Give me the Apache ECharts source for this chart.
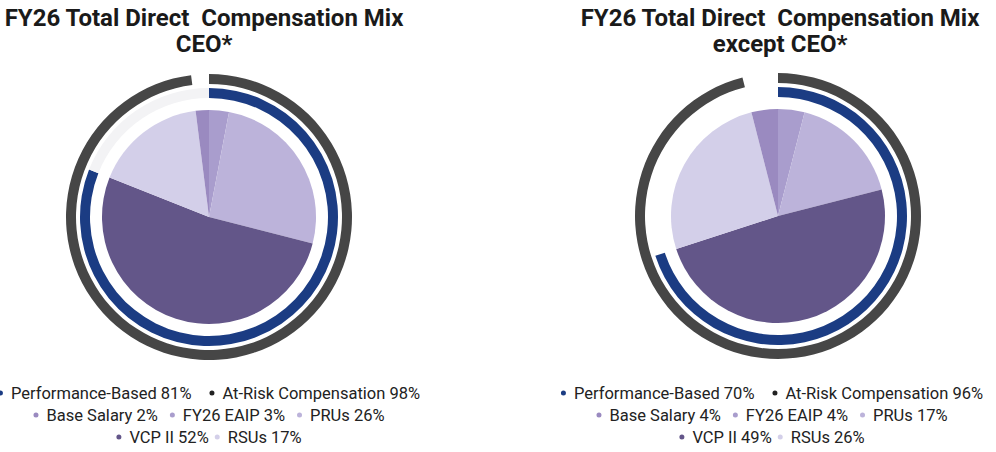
<!DOCTYPE html>
<html>
<head>
<meta charset="utf-8">
<script src="https://cdn.jsdelivr.net/npm/echarts@6/dist/echarts.min.js"></script>
<style>
	html, body { margin: 0; padding: 0; background: #fff; }
	#wrap { position: relative; width: 996px; height: 452px; overflow: hidden; }
	.chart { position: absolute; top: 0; height: 452px; }
	#ceo { left: -40px; width: 498px; }
	#others { left: 548px; width: 448px; }
</style>
</head>
<body>
<div id="wrap">
	<div id="ceo" class="chart"></div>
	<div id="others" class="chart"></div>
</div>
<script>
// Pay components, in clockwise order from 12 o'clock
const components = [ 'FY26 EAIP', 'PRUs', 'VCP II', 'RSUs', 'Base Salary' ];
const componentColors = [ '#a99dcd', '#bcb3da', '#635689', '#d3cfe9', '#9a8ac0' ];

const ceoMix = [ 3, 26, 52, 17, 2 ];
const othersMix = [ 4, 17, 49, 26, 4 ];

const ceoPerformanceBased = 81;
const ceoAtRisk = 98;
const othersPerformanceBased = 70;
const othersAtRisk = 96;

const ceoTitle = [ 'FY26 Total Direct  Compensation Mix', 'CEO*' ];
const othersTitle = [ 'FY26 Total Direct  Compensation Mix', 'except CEO*' ];

// Legend lines: indexes into components
const legendLine2 = [ 4, 0, 1 ];
const legendLine3 = [ 2, 3 ];

const DOT = 'path://M50,0A50,50,0,1,1,50,100A50,50,0,1,1,50,0Z';

const withPct = ( name, value ) => `${ name } ${ value }%`;

const legendLine = ( data, top, gap ) => ( {
	left: 'center',
	top,
	padding: 0,
	itemGap: gap,
	itemWidth: 7,
	itemHeight: 5,
	icon: DOT,
	selectedMode: false,
	textStyle: {
		fontFamily: 'Roboto',
		fontSize: 16.5,
		lineHeight: 20,
		color: '#222',
		padding: [ 0, 0, 0, 2 ]
	},
	data
} );

const titleLine = ( text, x, top ) => ( {
	text,
	left: x,
	top,
	padding: 0,
	textAlign: 'center',
	textStyle: {
		fontFamily: 'Roboto',
		fontWeight: 'bold',
		fontSize: 24,
		lineHeight: 24,
		color: '#1a1a1a'
	}
} );

/**
 * @param {HTMLElement} el
 * @param {Object} opts
 */
const render = ( el, opts ) => {
	const chart = echarts.init( el, null, { renderer: 'svg' } );
	const names = components.map( ( c, i ) => withPct( c, opts.mix[ i ] ) );
	const perfName = withPct( 'Performance-Based', opts.performance );
	const riskName = withPct( 'At-Risk Compensation', opts.atRisk );

	chart.setOption( {
		animation: false,
		title: opts.title.map( ( t, i ) => titleLine( t, opts.titleX, 6 + i * 25.5 ) ),
		legend: [
			legendLine( [ perfName, { name: riskName, itemStyle: { color: '#222' } } ], 383, 18 ),
			legendLine( legendLine2.map( ( i ) => names[ i ] ), 405, 12 ),
			legendLine( legendLine3.map( ( i ) => names[ i ] ), 427, 6 )
		],
		series: [
			{
				type: 'pie',
				center: opts.center,
				radius: [ 0, 107 ],
				label: { show: false },
				emphasis: { scale: false },
				data: components.map( ( c, i ) => ( {
					name: names[ i ],
					value: opts.mix[ i ],
					itemStyle: { color: componentColors[ i ] }
				} ) )
			},
			{
				type: 'pie',
				center: opts.center,
				radius: [ 119, 129 ],
				label: { show: false },
				emphasis: { scale: false },
				data: [
					{ name: perfName, value: opts.performance, itemStyle: { color: '#1b3c83' } },
					{ name: '', value: 100 - opts.performance, itemStyle: { color: opts.restColor } }
				]
			},
			{
				type: 'pie',
				center: opts.center,
				radius: [ 133, 143 ],
				label: { show: false },
				emphasis: { scale: false },
				data: [
					{ name: riskName, value: opts.atRisk, itemStyle: { color: '#464646' } },
					{ name: '', value: 100 - opts.atRisk, itemStyle: { color: 'transparent' } }
				]
			}
		]
	} );
};

render( document.getElementById( 'ceo' ), {
	mix: ceoMix,
	performance: ceoPerformanceBased,
	atRisk: ceoAtRisk,
	title: ceoTitle,
	titleX: 244,
	center: [ 249, 217 ],
	restColor: '#f3f3f5'
} );

render( document.getElementById( 'others' ), {
	mix: othersMix,
	performance: othersPerformanceBased,
	atRisk: othersAtRisk,
	title: othersTitle,
	titleX: 232,
	center: [ 230, 216 ],
	restColor: 'transparent'
} );
</script>
</body>
</html>
